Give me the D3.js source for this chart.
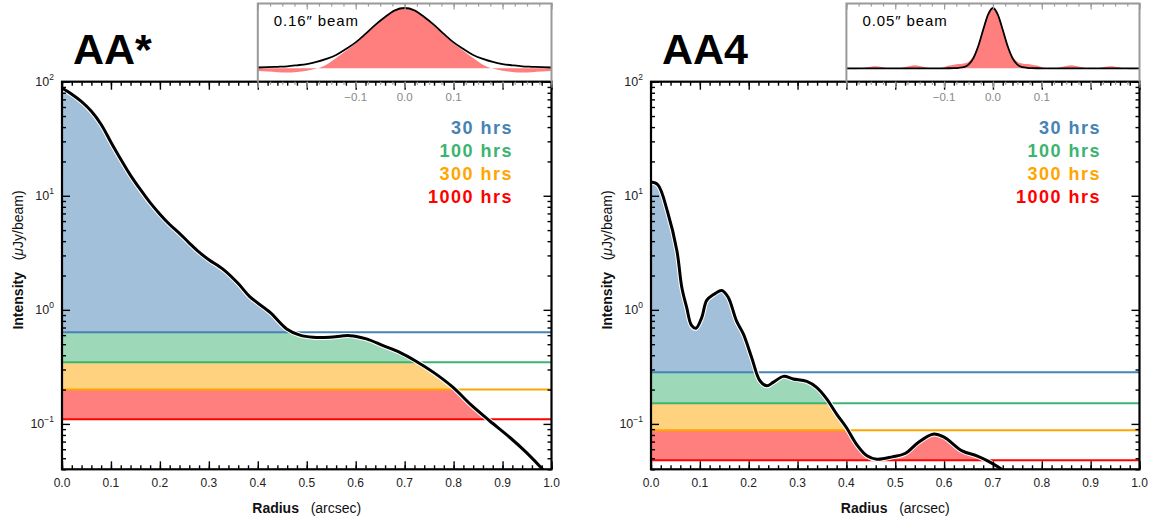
<!DOCTYPE html>
<html>
<head>
<meta charset="utf-8">
<script src="https://cdn.jsdelivr.net/npm/d3@7"></script>
<style>
	body { margin: 0; background: #fff; }
	svg { display: block; font-family: "Liberation Sans", Arial, sans-serif; }
</style>
</head>
<body>
<svg id="chart" width="1158" height="525"></svg>
<script>
// ---- data ----
const hours = ['30 hrs', '100 hrs', '300 hrs', '1000 hrs'];
const bandColors = ['#4682b4', '#3cb371', '#ffa500', '#ff0000'];
const bandFills = ['#a2c0d9', '#9dd9b8', '#ffd27f', '#ff7f7f'];

const xTickValues = [0.0, 0.1, 0.2, 0.3, 0.4, 0.5, 0.6, 0.7, 0.8, 0.9, 1.0];
const yTickValues = [0.1, 1, 10, 100];
const yTickExponents = ['\u22121', '0', '1', '2'];
const insetTickLabels = [-0.1, 0.0, 0.1];

// AA* radial profile (arcsec, uJy/beam)
const aaStarRadius = [0.000, 0.020, 0.040, 0.060, 0.080, 0.100, 0.120, 0.140, 0.160, 0.180, 0.200, 0.220, 0.240, 0.260, 0.280, 0.300, 0.330, 0.360, 0.384, 0.425, 0.459, 0.486, 0.513, 0.547, 0.588, 0.622, 0.656, 0.690, 0.724, 0.759, 0.799, 0.834, 0.874, 0.915, 0.949, 0.983, 1.010];
const aaStarIntensity = [88, 77.6, 66.8, 55, 42.2, 29.5, 20.9, 15.1, 11.35, 8.7, 6.9, 5.6, 4.68, 3.85, 3.2, 2.75, 2.25, 1.7, 1.3, 0.95, 0.68, 0.60, 0.575, 0.575, 0.594, 0.556, 0.485, 0.424, 0.353, 0.283, 0.209, 0.149, 0.106, 0.076, 0.056, 0.0395, 0.029];
const aaStarNoise = [0.635, 0.348, 0.2, 0.11];

// AA4 radial profile
const aa4Radius = [0.000, 0.014, 0.034, 0.053, 0.063, 0.073, 0.083, 0.092, 0.104, 0.114, 0.128, 0.145, 0.158, 0.175, 0.189, 0.206, 0.223, 0.237, 0.250, 0.271, 0.291, 0.319, 0.339, 0.360, 0.380, 0.400, 0.421, 0.442, 0.462, 0.494, 0.520, 0.547, 0.577, 0.599, 0.637, 0.667, 0.689, 0.720, 0.745];
const aa4Intensity = [13.2, 12.5, 7.2, 3.3, 1.58, 1.05, 0.73, 0.69, 0.86, 1.21, 1.36, 1.48, 1.29, 0.80, 0.615, 0.383, 0.239, 0.216, 0.231, 0.261, 0.248, 0.236, 0.209, 0.165, 0.122, 0.093, 0.066, 0.0525, 0.049, 0.0514, 0.055, 0.0687, 0.0813, 0.077, 0.058, 0.0525, 0.0474, 0.0393, 0.031];
const aa4Noise = [0.283, 0.152, 0.088, 0.048];

// beam insets (offset in arcsec, normalised response)
const aaStarBeamOffset = [-0.30, -0.28, -0.26, -0.24, -0.22, -0.20, -0.18, -0.16, -0.14, -0.12, -0.10, -0.08, -0.06, -0.04, -0.02, 0.00, 0.02, 0.04, 0.06, 0.08, 0.10, 0.12, 0.14, 0.16, 0.18, 0.20, 0.22, 0.24, 0.26, 0.28, 0.30];
const aaStarCleanBeam = [0.013, 0.018, 0.025, 0.033, 0.05, 0.07, 0.105, 0.155, 0.22, 0.32, 0.43, 0.57, 0.72, 0.85, 0.96, 1.0, 0.96, 0.85, 0.72, 0.57, 0.43, 0.32, 0.22, 0.155, 0.105, 0.07, 0.05, 0.033, 0.025, 0.018, 0.013];
const aaStarDirtyBeam = [-0.045, -0.055, -0.065, -0.07, -0.06, -0.04, -0.005, 0.06, 0.17, 0.29, 0.41, 0.56, 0.71, 0.85, 0.96, 1.0, 0.96, 0.85, 0.71, 0.56, 0.41, 0.29, 0.17, 0.06, -0.005, -0.04, -0.06, -0.07, -0.065, -0.055, -0.045];

const aa4BeamOffset = [-0.30, -0.28, -0.26, -0.24, -0.22, -0.20, -0.18, -0.16, -0.14, -0.12, -0.10, -0.09, -0.08, -0.07, -0.06, -0.05, -0.04, -0.03, -0.02, -0.01, 0.00, 0.01, 0.02, 0.03, 0.04, 0.05, 0.06, 0.07, 0.08, 0.09, 0.10, 0.12, 0.14, 0.16, 0.18, 0.20, 0.22, 0.24, 0.26, 0.28, 0.30];
const aa4CleanBeam = [0, 0, 0, 0, 0, 0, 0, 0, 0, 0, 0, 0.001, 0.003, 0.008, 0.02, 0.06, 0.17, 0.37, 0.64, 0.89, 1.0, 0.89, 0.64, 0.37, 0.17, 0.06, 0.02, 0.008, 0.003, 0.001, 0, 0, 0, 0, 0, 0, 0, 0, 0, 0, 0];
const aa4DirtyBeam = [-0.01, -0.015, 0.015, 0.035, 0.01, -0.01, 0.02, 0.05, 0.02, -0.01, 0.02, 0.045, 0.06, 0.07, 0.08, 0.11, 0.2, 0.39, 0.65, 0.89, 1.0, 0.89, 0.65, 0.39, 0.2, 0.11, 0.08, 0.07, 0.06, 0.045, 0.02, -0.01, 0.02, 0.05, 0.02, -0.01, 0.01, 0.035, 0.015, -0.015, -0.01];

const panels = [
	{ id: 'aastar', title: 'AA*', beamLabel: '0.16\u2033 beam', radius: aaStarRadius, intensity: aaStarIntensity, noise: aaStarNoise,
		beamOffset: aaStarBeamOffset, clean: aaStarCleanBeam, dirty: aaStarDirtyBeam, x0: 62, x1: 551.5 },
	{ id: 'aa4', title: 'AA4', beamLabel: '0.05\u2033 beam', radius: aa4Radius, intensity: aa4Intensity, noise: aa4Noise,
		beamOffset: aa4BeamOffset, clean: aa4CleanBeam, dirty: aa4DirtyBeam, x0: 651, x1: 1139.5 },
];

// ---- layout ----
const plotTop = 81.7, plotBottom = 469.3;
const yDomain = [0.04, 100];
const svg = d3.select('#chart');
const defs = svg.append('defs');

const yMinor = [];
[0.01, 0.1, 1, 10].forEach(d => { for (let k = 2; k <= 9; k++) yMinor.push(d * k); });
const yMinorIn = yMinor.filter(v => v >= yDomain[0] && v <= yDomain[1]);

panels.forEach(p => {
	const x = d3.scaleLinear().domain([0, 1]).range([p.x0, p.x1]);
	const y = d3.scaleLog().domain(yDomain).range([plotBottom, plotTop]);
	const g = svg.append('g').attr('class', 'panel ' + p.id);
	const pts = p.radius.map((r, i) => [r, p.intensity[i]]);

	const line = d3.line().x(d => x(d[0])).y(d => y(d[1])).curve(d3.curveCatmullRom.alpha(0.5));
	const under = d3.area().x(d => x(d[0])).y0(plotBottom).y1(d => y(d[1])).curve(d3.curveCatmullRom.alpha(0.5));

	defs.append('clipPath').attr('id', 'plot-' + p.id)
		.append('rect').attr('x', p.x0).attr('y', plotTop).attr('width', p.x1 - p.x0).attr('height', plotBottom - plotTop);
	defs.append('clipPath').attr('id', 'under-' + p.id)
		.append('path').attr('d', under(pts));

	const plot = g.append('g').attr('clip-path', `url(#plot-${p.id})`);
	const bands = plot.append('g').attr('clip-path', `url(#under-${p.id})`);
	bands.selectAll('rect').data(p.noise).join('rect')
		.attr('x', p.x0)
		.attr('width', p.x1 - p.x0)
		.attr('y', (d, i) => i === 0 ? plotTop : y(p.noise[i - 1]))
		.attr('height', (d, i) => y(d) - (i === 0 ? plotTop : y(p.noise[i - 1])))
		.attr('fill', (d, i) => bandFills[i]);

	plot.selectAll('line.noise').data(p.noise).join('line')
		.attr('class', 'noise')
		.attr('x1', p.x0).attr('x2', p.x1)
		.attr('y1', d => y(d)).attr('y2', d => y(d))
		.attr('stroke', (d, i) => bandColors[i])
		.attr('stroke-width', 2);

	plot.append('path').attr('d', line(pts)).attr('fill', 'none').attr('stroke', '#fff').attr('stroke-width', 5);
	plot.append('path').attr('d', line(pts)).attr('fill', 'none').attr('stroke', '#000').attr('stroke-width', 3)
		.attr('stroke-linejoin', 'round');

	// ticks, inward on all four sides
	const tickAxis = (axis, tf, size) => g.append('g').attr('transform', tf)
		.call(axis.tickSize(size).tickFormat(''))
		.call(s => s.select('.domain').remove())
		.call(s => s.selectAll('line').attr('stroke', '#000').attr('stroke-width', 1.4));
	const xMinor = d3.range(0, 1.0001, 0.02);
	tickAxis(d3.axisBottom(x).tickValues(xMinor), `translate(0,${plotBottom})`, -4);
	tickAxis(d3.axisBottom(x).tickValues(xTickValues), `translate(0,${plotBottom})`, -8);
	tickAxis(d3.axisTop(x).tickValues(xMinor), `translate(0,${plotTop})`, -4);
	tickAxis(d3.axisTop(x).tickValues(xTickValues), `translate(0,${plotTop})`, -8);
	tickAxis(d3.axisLeft(y).tickValues(yMinorIn), `translate(${p.x0},0)`, -4);
	tickAxis(d3.axisLeft(y).tickValues(yTickValues), `translate(${p.x0},0)`, -8);
	tickAxis(d3.axisRight(y).tickValues(yMinorIn), `translate(${p.x1},0)`, -4);
	tickAxis(d3.axisRight(y).tickValues(yTickValues), `translate(${p.x1},0)`, -8);

	g.append('rect').attr('x', p.x0).attr('y', plotTop).attr('width', p.x1 - p.x0).attr('height', plotBottom - plotTop)
		.attr('fill', 'none').attr('stroke', '#000').attr('stroke-width', 2.2);

	// tick labels
	g.append('g').selectAll('text').data(xTickValues).join('text')
		.attr('x', d => x(d)).attr('y', plotBottom + 18)
		.attr('text-anchor', 'middle').attr('font-size', 12).attr('fill', '#222')
		.text(d3.format('.1f'));
	const yl = g.append('g').selectAll('text').data(yTickValues).join('text')
		.attr('x', p.x0 - 8).attr('y', d => y(d) + 4.5)
		.attr('text-anchor', 'end').attr('font-size', 12.5).attr('fill', '#222');
	yl.append('tspan').text('10');
	yl.append('tspan').attr('dy', -6.5).attr('font-size', 8.5).text((d, i) => yTickExponents[i]);

	// axis titles
	const xt = g.append('text').attr('x', (p.x0 + p.x1) / 2).attr('y', 513)
		.attr('text-anchor', 'middle').attr('font-size', 14).attr('fill', '#111');
	xt.append('tspan').attr('font-weight', 'bold').text('Radius');
	xt.append('tspan').attr('xml:space', 'preserve').text('   (arcsec)');
	const ytl = g.append('text').attr('transform', `translate(${p.x0 - 39},260) rotate(-90)`)
		.attr('text-anchor', 'middle').attr('font-size', 14).attr('fill', '#111');
	ytl.append('tspan').attr('font-weight', 'bold').text('Intensity');
	ytl.append('tspan').attr('xml:space', 'preserve').text('   (');
	ytl.append('tspan').attr('font-style', 'italic').text('\u03bc');
	ytl.append('tspan').text('Jy/beam)');

	// legend
	g.append('g').selectAll('text').data(hours).join('text')
		.attr('x', p.x1 - 38.5).attr('y', (d, i) => 133.5 + i * 23.3)
		.attr('text-anchor', 'end').attr('font-size', 18).attr('font-weight', 'bold')
		.attr('letter-spacing', 1.5)
		.attr('fill', (d, i) => bandColors[i])
		.text(d => d);

	// title
	g.append('text').attr('x', p.x0 + 11).attr('y', 64)
		.attr('font-size', 43).attr('font-weight', 'bold').attr('fill', '#000')
		.text(p.title);

	// beam inset
	const ix = d3.scaleLinear().domain([-0.3, 0.3]).range([x(0.4), x(1.0)]);
	const iy = d3.scaleLinear().domain([0, 1]).range([68.3, 8]);
	const iTop = 3.5;
	const bpts = p.beamOffset.map((o, i) => ({ o, clean: p.clean[i], dirty: p.dirty[i] }));
	defs.append('clipPath').attr('id', 'inset-' + p.id)
		.append('rect').attr('x', ix(-0.3)).attr('y', iTop).attr('width', ix(0.3) - ix(-0.3)).attr('height', plotTop - iTop);
	const inset = g.append('g').attr('class', 'inset');
	const ic = inset.append('g').attr('clip-path', `url(#inset-${p.id})`);
	ic.append('path')
		.attr('d', d3.area().x(d => ix(d.o)).y0(iy(0)).y1(d => iy(d.dirty)).curve(d3.curveMonotoneX)(bpts))
		.attr('fill', '#ff7f7f');
	ic.append('path')
		.attr('d', d3.line().x(d => ix(d.o)).y(d => iy(d.clean)).curve(d3.curveMonotoneX)(bpts))
		.attr('fill', 'none').attr('stroke', '#000').attr('stroke-width', 1.8);

	const insetMinor = d3.range(-0.3, 0.3001, 0.025);
	const insetMajor = [-0.3, -0.2, -0.1, 0.0, 0.1, 0.2, 0.3];
	const grayTicks = (vals, tf, size, axis) => inset.append('g').attr('transform', tf)
		.call(axis.tickValues(vals).tickSize(size).tickFormat(''))
		.call(s => s.select('.domain').remove())
		.call(s => s.selectAll('line').attr('stroke', '#999').attr('stroke-width', 1.2));
	grayTicks(insetMinor, `translate(0,${iTop})`, -3, d3.axisTop(ix));
	grayTicks(insetMajor, `translate(0,${iTop})`, -6, d3.axisTop(ix));
	grayTicks(insetMinor, `translate(0,${plotTop})`, 3, d3.axisBottom(ix));
	grayTicks(insetMajor, `translate(0,${plotTop})`, 6, d3.axisBottom(ix));

	inset.append('path')
		.attr('d', `M${ix(-0.3)},${plotTop}V${iTop}H${ix(0.3)}V${plotTop}`)
		.attr('fill', 'none').attr('stroke', '#999').attr('stroke-width', 2);
	inset.append('g').selectAll('text').data(insetTickLabels).join('text')
		.attr('x', d => ix(d)).attr('y', plotTop + 19)
		.attr('text-anchor', 'middle').attr('font-size', 11.5).attr('fill', '#888')
		.text(d => d < 0 ? '\u2212' + d3.format('.1f')(-d) : d3.format('.1f')(d));
	inset.append('text').attr('x', ix(-0.3) + 16).attr('y', 25.5)
		.attr('font-size', 15).attr('letter-spacing', 0.9).attr('fill', '#000')
		.text(p.beamLabel);
});
</script>
</body>
</html>
